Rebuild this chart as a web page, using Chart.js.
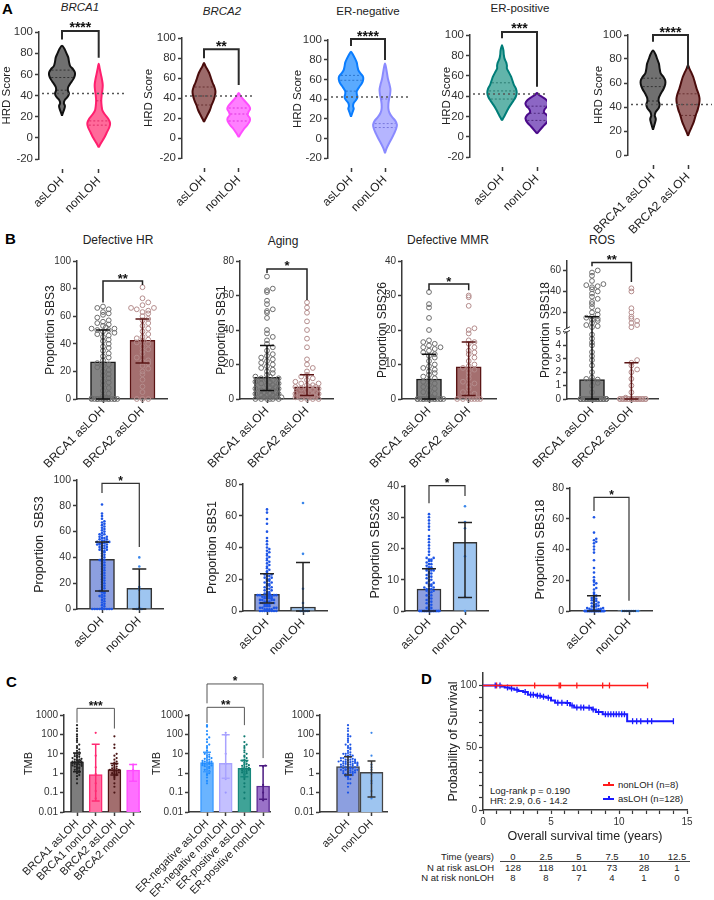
<!DOCTYPE html>
<html>
<head>
<meta charset="utf-8">
<script src="https://cdn.jsdelivr.net/npm/chart.js"></script>
<style>
html, body { margin:0; padding:0; overflow:hidden; }
body { width:714px; height:900px; position:relative; background:#fff; font-family:'Liberation Sans', Arial, sans-serif; color:#222; }
canvas { position:absolute; }
.t { position:absolute; white-space:nowrap; line-height:1; }
.c { transform:translateX(-50%); }
.r { transform:translateX(-100%); }
.L { font-weight:bold; color:#000; }
</style>
</head>
<body>
<div class="t L" style="left:2px;top:1px;font-size:15px">A</div>
<div class="t c" style="left:80px;top:2px;font-size:11.5px;font-style:italic">BRCA1</div>
<div class="t c" style="left:222px;top:6px;font-size:11.5px;font-style:italic">BRCA2</div>
<div class="t c" style="left:368px;top:6px;font-size:11.5px">ER-negative</div>
<div class="t c" style="left:520px;top:3px;font-size:11.5px">ER-positive</div>
<div class="t L" style="left:5px;top:231px;font-size:15px">B</div>
<div class="t c" style="left:118px;top:234px;font-size:12px">Defective HR</div>
<div class="t c" style="left:283px;top:235px;font-size:12px">Aging</div>
<div class="t c" style="left:448px;top:234px;font-size:12px">Defective MMR</div>
<div class="t c" style="left:602px;top:234px;font-size:12px">ROS</div>
<div class="t L" style="left:6px;top:674px;font-size:15px">C</div>
<div class="t L" style="left:421px;top:671px;font-size:15px">D</div>
<div class="t" style="left:490px;top:786px;font-size:9.5px">Log-rank p = 0.190</div>
<div class="t" style="left:490px;top:796px;font-size:9.5px">HR: 2.9, 0.6 - 14.2</div>
<div id="leg"></div>
<div id="risk"></div>

<script>
// ---------- data ----------

// violin outlines: [HRD score, half width in category units]
var vB1As = [[21,0],[24,0.03],[27,0.06],[30,0.08],[33,0.05],[36,0.08],[39,0.16],[42,0.19],[45,0.16],[48,0.17],[51,0.22],[55,0.3],[59,0.35],[62,0.35],[65,0.3],[68,0.22],[72,0.19],[76,0.17],[80,0.12],[84,0.07],[87,0]];
var vB1Non = [[-9,0],[-5,0.06],[0,0.15],[5,0.22],[10,0.29],[14,0.31],[18,0.26],[22,0.17],[26,0.1],[30,0.08],[35,0.07],[40,0.08],[45,0.1],[50,0.11],[55,0.09],[60,0.06],[65,0.03],[70,0]];
var vB2As = [[16,0],[19,0.04],[23,0.1],[28,0.17],[33,0.22],[38,0.28],[43,0.32],[47,0.33],[51,0.3],[55,0.25],[60,0.2],[65,0.15],[69,0.09],[72,0.04],[75,0]];
var vB2Non = [[1,0],[5,0.07],[9,0.15],[13,0.25],[17,0.32],[20,0.32],[23,0.26],[26,0.28],[29,0.33],[32,0.3],[36,0.2],[40,0.1],[43,0.04],[45,0]];
var vNegAs = [[22,0],[25,0.03],[28,0.06],[30,0.08],[33,0.06],[36,0.08],[39,0.15],[42,0.19],[45,0.17],[48,0.17],[52,0.24],[56,0.32],[60,0.36],[63,0.35],[66,0.28],[69,0.22],[73,0.19],[77,0.17],[81,0.12],[85,0.06],[88,0]];
var vNegNon = [[-15,0],[-10,0.05],[-5,0.12],[0,0.2],[5,0.27],[10,0.33],[14,0.35],[18,0.3],[22,0.2],[26,0.13],[30,0.1],[35,0.1],[40,0.12],[45,0.15],[50,0.16],[55,0.13],[60,0.09],[66,0.06],[72,0.03],[76,0]];
var vPosAs = [[16,0],[19,0.05],[23,0.11],[27,0.17],[31,0.24],[35,0.32],[39,0.39],[43,0.42],[47,0.4],[51,0.34],[55,0.3],[59,0.26],[63,0.2],[67,0.14],[70,0.14],[73,0.12],[77,0.07],[81,0.05],[85,0.04],[90,0]];
var vPosNon = [[3,0],[6,0.07],[10,0.17],[14,0.28],[18,0.33],[21,0.29],[24,0.2],[27,0.22],[30,0.3],[33,0.33],[36,0.27],[39,0.15],[41,0.06],[43,0]];
// quartiles drawn inside the violins
var qB1As = [45, 57, 64], qB1Non = [12, 16, 35], qB2As = [33, 42, 51], qB2Non = [17, 24, 30];
var qNegAs = [48, 59, 64], qNegNon = [11, 15, 40], qPosAs = [37, 45, 53], qPosNon = [16, 23, 30];

// B top: signatures, BRCA1 asLOH vs BRCA2 asLOH
var hrBrca1 = [0,0,0,0,0,0,0,0,0,0,0,0,0,0,0.5,1,2,4,6,8,10,12,13,15,17,18,20,21,23,24,25,26,28,30,31,33,35,37,38,40,42,43,45,46,47,48,49,50,50,51,51,52,53,54,55,56,57,59,61,62,63,65,66,67];
var hrBrca2 = [0,0,0,5,9,14,18,20,22,24,26,27,28,30,33,35,36,38,40,41,42,43,44,45,47,49,51,53,55,57,58,60,62,63,64,65,66,66,68,70,73,81];
var hrBar = [27, 42.5], hrLo = [0, 26], hrHi = [50, 58];
var agBrca1 = [0,0,0,0,0,0,1,1,1,2,2,2,3,3,3,4,4,5,5,5,6,6,7,7,8,8,9,9,10,10,11,11,12,12,13,13,14,15,16,17,18,19,20,21,22,23,24,25,26,28,30,32,34,36,38,40,47,50,51,52,55,57,62,63,64,71];
var agBrca2 = [0,0,0,0,1,1,1,2,2,2,3,3,4,4,5,5,6,6,7,7,7,8,8,9,9,10,11,12,13,14,16,18,20,23,30,35,40,45,50,53,56];
var agBar = [12.5, 7], agLo = [5, 2], agHi = [31, 14];
var mmrBrca1 = [0,0,0,0,0,0,0,0,0,0,0,0,0,0,0,0.5,1,1.5,2,2.5,3,3.5,4,4.5,5,5.5,6,6.5,7,7.5,8,8.5,9,9.5,10,11,12,12.5,13,13.5,14,14.5,15,15,15.5,16,16.5,17,20,23.5,26.5,27.5,31];
var mmrBrca2 = [0,0,0,0,0,0,0,1,1.5,2,3,4,4.5,5,6,7,8,8.5,9,9.5,10,11,12,13,13.5,14,15,16,16.5,17,19,20,20.5,27,29.5,30];
var mmrBar = [5.8, 9.3], mmrLo = [0, 1], mmrHi = [13, 16.5];
var rosBrca1 = [0,0,0,0,0,0,0,0,0,0,0,0,0,0,0,0,0,0,0,0,0,0,0,0,0,0,0,0,0,0,0,0,0,0,0,0.5,1,1.2,1.4,1.45,1.5,1.6,2,2.5,2.9,3.2,3.5,4,4.2,4.5,4.8,6,7,8,10,12,13,14,15,16,18,20,22,25,28,30,33,35,38,40,42,44,45,46,47,50,55,58,60];
var rosBrca2 = [0,0,0,0,0,0,0,0,0,0,0,0,0,0,0,0,0,0,0,0,0,0,0.1,0.5,1,1.5,2,2.2,2.5,2.7,2.9,6,8,10,12,14,16,20,24,40,43];
var rosBar = [1.45, 0.05], rosLo = [0, 0], rosHi = [16, 2.7];

// B bottom: asLOH vs nonLOH
var s3As = [0,0,0,0,0,0,0,0,0,1,2,3,4,5,6,7,8,9,10,10,11,12,13,13,14,15,16,17,18,19,20,21,22,23,24,25,26,27,28,29,30,31,32,33,34,35,36,37,38,38,39,40,41,42,43,44,45,45,46,46,47,47,48,48,49,49,50,50,50,51,51,51,52,52,52,53,53,54,54,55,55,56,56,57,58,58,59,60,61,62,63,64,65,66,67,68,70,72,74,81];
var s3Non = [0,0,0,1,15,17,33,40];
var s3Bar = [38.5, 16], s3Lo = [14, 0], s3Hi = [52, 31];
var s1As = [0,0,0,0,0,0,0,0,1,1,1,1,2,2,2,2,3,3,3,4,4,4,5,5,5,5,6,6,6,7,7,7,7,8,8,8,8,9,9,9,9,9,10,10,10,10,10,10,11,11,11,12,12,13,13,14,14,15,15,16,16,17,17,18,18,19,19,20,20,21,21,22,22,23,23,24,25,26,27,28,29,30,31,32,33,34,35,36,37,38,39,40,42,44,46,50,55,58,62,64];
var s1Non = [0,0,0,0,2,5,14,36,68];
var s1Bar = [10.5, 2.5], s1Lo = [5, 0], s1Hi = [23.5, 30.5];
var s26As = [0,0,0,0,0,0,0,0,0,0,0,0,0,0,0,0,0,0,0,0,0,0,0,0,0,0,0,0,0.5,1,1,1.5,2,2,2.5,3,3,3.5,4,4,4.5,5,5,5.5,6,6,6.5,6.5,7,7,7,7.5,7.5,8,8,8.5,8.5,9,9,9.5,10,10,10.5,11,11,11.5,12,12,12.5,13,13,13,13.5,13.5,13.5,14,14,14.5,15,15,15.5,16,16,16.5,16.5,17,17,18,19,20,21,22,23,24,26,27,28,29,30,31];
var s26Non = [0,4.5,17.5,26.5,28.5,33.5];
var s26Bar = [7, 22], s26Lo = [0, 4.3], s26Hi = [13.5, 28.3];
var s18As = [0,0,0,0,0,0,0,0,0,0,0,0,0,0,0,0,0,0,0,0,0,0,0,0,0,0,0,0,0,0,0,0,0,0,0,0,0,0,0,0,0,0,0,0,0,0.5,0.5,0.5,0.5,0.5,0.8,1,1,1.2,1.5,1.5,2,2,2.5,3,3,3.5,4,4.5,5,5.5,6,6.5,7,7.5,8,8.5,9,10,11,12,14,15,17,18,19,20,22,25,28,33,38,40,42,44,45,46,47,51,61];
var s18Non = [0,0,0,0,0,0,0,0];
var s18Bar = [0.5, 0.05], s18Lo = [0, 0], s18Hi = [10, 0];

// C: tumour mutational burden
var tmbB1As = [0.3,0.5,0.7,0.8,1,1.1,1.2,1.4,1.5,1.7,1.8,2,2,2.2,2.4,2.5,2.7,2.8,3,3,3.2,3.4,3.5,3.7,3.8,4,4,4.2,4.5,4.7,5,5,5.5,6,6.5,7,7.5,8,9,10,11,12,14,17,20,25,30,40,50,60,80,100,150,200,300];
var tmbB1Non = [0.05,0.12,0.3,0.9,2,8,120];
var tmbB2As = [0.1,0.2,0.3,0.5,0.6,0.7,0.8,0.9,1,1,1.1,1.2,1.3,1.4,1.5,1.5,1.6,1.7,1.8,2,2.2,2.5,2.8,3,3.5,4,5,6,8,10,20,30,80];
var tmbB2Non = [0.4,1.5,2.8];
var tmbGeneBar = [3.9, 0.85, 1.55, 1.43], tmbGeneLo = [1.2, 0.037, 0.8, 0.39], tmbGeneHi = [11, 31.5, 3.2, 2.8];
var tmbNegAs = [0.3,0.4,0.6,0.8,0.9,1,1.2,1.3,1.5,1.6,1.8,2,2.1,2.3,2.5,2.6,2.8,3,3,3.2,3.3,3.5,3.7,4,4,4.3,4.6,5,5.5,6,6.5,7,8,9,10,12,15,20,25,30,40,55,70,100,150,250,300];
var tmbNegNon = [0.1,0.5,3,10,90,120];
var tmbPosAs = [0.05,0.1,0.2,0.3,0.5,0.6,0.8,0.9,1,1.1,1.2,1.3,1.4,1.5,1.6,1.7,1.8,1.9,2,2.2,2.4,2.6,2.8,3,3.5,4,4.5,5,6,7,8,10,12,15,20,25,30,40,80];
var tmbPosNon = [0.04,0.1,0.25,2.2,2.5];
var tmbErBar = [3.5, 3.2, 1.8, 0.22], tmbErLo = [1.2, 0.55, 0.65, 0.045], tmbErHi = [12, 95, 4.5, 2.4];
var tmbAllAs = tmbB1As.concat(tmbB2As);
var tmbAllNon = tmbB1Non.concat(tmbB2Non);
var tmbBar = [2.2, 1.1], tmbLo = [0.8, 0.06], tmbHi = [7, 4.2];

// D: Kaplan-Meier
var kmAsT = [0,1.35,1.6,1.95,2.3,2.6,2.95,3.3,3.9,4.3,4.65,5.0,5.3,6.1,6.4,6.7,7.6,8.0,8.3,8.8,10.6,14.0];
var kmAsS = [100,99.2,98.4,97.6,96.5,95.6,94.7,92.6,91.8,91,90.2,88,86.2,86,84,82.2,82,80.6,78.7,76.9,71.3,71.3];
var kmAsCens = [0.9,1.25,1.8,2.1,2.5,3.1,3.5,3.7,4.0,4.2,4.45,4.8,5.5,5.8,6.2,6.55,6.9,7.2,7.4,7.8,8.1,8.5,9.0,9.2,9.4,9.6,9.8,10.0,10.2,10.4,11.0,11.3,11.6,12.1,12.4,14.0];
var kmNonT = [0, 12.1];
var kmNonS = [100, 100];
var kmNonCens = [1.0,3.8,5.6,5.7,6.9,8.8,9.3,12.1];
var riskTime = ['0','2.5','5','7.5','10','12.5'];
var riskAs = [128,118,101,73,28,1];
var riskNon = [8,8,7,4,1,0];

var LBL_AS = ['asLOH', 'nonLOH'];
var LBL_BR = ['BRCA1 asLOH', 'BRCA2 asLOH'];
var LBL_GENE = ['BRCA1 asLOH', 'BRCA1 nonLOH', 'BRCA2 asLOH', 'BRCA2 nonLOH'];
var LBL_ER = ['ER-negative asLOH', 'ER-negative nonLOH', 'ER-positive asLOH', 'ER-positive nonLOH'];

// ---------- helpers ----------
var FONT = "'Liberation Sans', Arial, sans-serif";
var AXIS = '#3a3a3a';
Chart.defaults.font.family = FONT;
Chart.defaults.color = '#333';

// y axis with a gap (0-5 below, 5-max above)
class BrokenScale extends Chart.LinearScale {
	getPixelForValue(v) {
		if (v === null || v === undefined) return NaN;
		var b = this.options.breakAt, lf = this.options.lowFrac, gp = this.options.gapFrac;
		var d = v <= b ? v / b * lf : lf + gp + (v - b) / (this.max - b) * (1 - lf - gp);
		return this.getPixelForDecimal(d);
	}
	getValueForPixel(p) {
		var b = this.options.breakAt, lf = this.options.lowFrac, gp = this.options.gapFrac;
		var d = this.getDecimalForPixel(p);
		return d <= lf ? d / lf * b : b + (d - lf - gp) / (1 - lf - gp) * (this.max - b);
	}
}
BrokenScale.id = 'broken';
BrokenScale.defaults = Chart.LinearScale.defaults;
Chart.register(BrokenScale);

function geo(g) {
	var o = Object.assign({pt: 40, pr: 6, padL: 50, tsize: 12, tick: 11, xfont: 12, xh: 90, c0: 0, sp: 1}, g);
	var inner = Math.round(o.ax - o.toff - o.tsize * 0.6);
	o.yw = o.ax - inner;
	o.left = inner - o.padL;
	o.xmin = -(o.c0 - o.ax) / o.sp;
	o.xmax = (o.right - o.c0) / o.sp;
	return o;
}

function mount(g) {
	var c = document.createElement('canvas');
	c.width = Math.round(g.right - g.left + g.pr);
	c.height = Math.round(g.bot - g.top + g.pt + g.xh);
	c.style.left = g.left + 'px';
	c.style.top = Math.round(g.top - g.pt) + 'px';
	document.body.appendChild(c);
	return c;
}

function baseOptions(g, scales) {
	return {
		responsive: false,
		animation: false,
		layout: {padding: {top: g.pt, right: g.pr, left: g.padL, bottom: 0}},
		plugins: {legend: {display: false}, tooltip: {enabled: false}},
		scales: scales
	};
}

function yScale(g, y) {
	return {
		type: y.type || 'linear',
		position: 'left',
		bounds: 'data',
		min: y.min, max: y.max,
		breakAt: y.breakAt, lowFrac: y.lowFrac, gapFrac: y.gapFrac,
		grid: {drawOnChartArea: false, tickLength: 4, tickColor: AXIS, tickWidth: 1.5},
		border: {display: true, color: AXIS, width: 1.5},
		ticks: {autoSkip: false, padding: 2, color: '#333', font: {size: g.tick},
			callback: function (v) {
				if (y.show) return y.show.indexOf(v) >= 0 ? String(v) : '';
				return String(v);
			}},
		title: {display: true, text: y.title, color: '#222', padding: 0, font: {size: g.tsize}},
		afterBuildTicks: function (s) { s.ticks = y.ticks.map(function (v) { return {value: v}; }); },
		afterFit: function (s) { s.width = g.yw; s.paddingTop = 0; s.paddingBottom = 0; }
	};
}

function xScale(g, labels, axisLine) {
	return {
		type: 'linear',
		position: 'bottom',
		bounds: 'data',
		offset: false,
		min: g.xmin, max: g.xmax,
		grid: {drawOnChartArea: false, offset: false, tickLength: axisLine ? 4 : 14, tickColor: AXIS, tickWidth: 1.5,
			tickBorderDash: axisLine ? [] : [0, 10, 4, 100]},
		border: {display: axisLine, color: AXIS, width: 1.5},
		ticks: {autoSkip: false, minRotation: 45, maxRotation: 45, padding: 1, color: '#222', font: {size: g.xfont},
			callback: function (v) { return labels[v]; }},
		afterBuildTicks: function (s) { s.ticks = labels.map(function (l, i) { return {value: i}; }); },
		afterFit: function (s) { s.height = g.xh; s.paddingLeft = 0; s.paddingRight = 0; }
	};
}

// dots spread sideways inside their bin so they do not sit on top of each other
function swarm(vals, cat, step, half, keyOf) {
	var used = {};
	var lim = Math.max(1, Math.floor(half / step)), per = 2 * lim + 1;
	return vals.map(function (v) {
		var k = keyOf(v);
		var n = used[k] || 0;
		used[k] = n + 1;
		var i = n % per, ring = Math.floor(n / per);
		var off = (i % 2 ? 1 : -1) * Math.ceil(i / 2) * step;
		if (ring % 2) off += step / 2;
		return {x: cat + off, y: v};
	});
}
function linKey(bin) { return function (v) { return Math.round(v / bin); }; }
function logKey(bin) { return function (v) { return Math.round(Math.log10(v) / bin); }; }
function brokenKey(v) { return v <= 5 ? Math.round(v / 0.35) : 1000 + Math.round(v / 3.5); }

function violinPts(shape, cat) {
	var pts = shape.map(function (p) { return {x: cat + p[1], y: p[0]}; });
	for (var i = shape.length - 2; i >= 0; i--) pts.push({x: cat - shape[i][1], y: shape[i][0]});
	return pts;
}
function halfAt(shape, y) {
	for (var i = 0; i < shape.length - 1; i++) {
		var a = shape[i], b = shape[i + 1];
		if (y >= a[0] && y <= b[0]) return a[1] + (b[1] - a[1]) * (y - a[0]) / (b[0] - a[0]);
	}
	return 0;
}

// threshold line, quartiles, error bars, significance brackets, axis break
function extras(ex) {
	return {
		id: 'extras',
		afterDatasetsDraw: function (chart) {
			var ctx = chart.ctx, xs = chart.scales.x, ys = chart.scales.y, a = chart.chartArea;
			ctx.save();
			(ex.quart || []).forEach(function (v) {
				ctx.strokeStyle = v.color; ctx.lineWidth = 1; ctx.setLineDash([2, 2]);
				v.q.forEach(function (q) {
					var w = halfAt(v.shape, q) * 0.9, py = ys.getPixelForValue(q);
					ctx.beginPath();
					ctx.moveTo(xs.getPixelForValue(v.cat - w), py);
					ctx.lineTo(xs.getPixelForValue(v.cat + w), py);
					ctx.stroke();
				});
				ctx.setLineDash([]);
			});
			if (ex.hline !== undefined) {
				var hy = ys.getPixelForValue(ex.hline);
				ctx.setLineDash([2, 3]); ctx.strokeStyle = '#555'; ctx.lineWidth = 1.5;
				ctx.beginPath(); ctx.moveTo(a.left + 3, hy); ctx.lineTo(a.right, hy); ctx.stroke();
				ctx.setLineDash([]);
			}
			(ex.err || []).forEach(function (e) {
				var x = xs.getPixelForValue(e.x), y1 = ys.getPixelForValue(e.lo), y2 = ys.getPixelForValue(e.hi);
				ctx.strokeStyle = e.color; ctx.lineWidth = 1.5;
				ctx.beginPath();
				ctx.moveTo(x, y1); ctx.lineTo(x, y2);
				ctx.moveTo(x - ex.cap, y2); ctx.lineTo(x + ex.cap, y2);
				ctx.moveTo(x - ex.cap, y1); ctx.lineTo(x + ex.cap, y1);
				ctx.stroke();
			});
			(ex.brackets || []).forEach(function (b) {
				var xa = xs.getPixelForValue(b[0]), xb = xs.getPixelForValue(b[1]);
				var yt = ys.getPixelForValue(b[2]), ya = ys.getPixelForValue(b[3]), yb = ys.getPixelForValue(b[4]);
				ctx.strokeStyle = ex.bcolor || '#222'; ctx.lineWidth = ex.bw || 1.5;
				ctx.beginPath(); ctx.moveTo(xa, ya); ctx.lineTo(xa, yt); ctx.lineTo(xb, yt); ctx.lineTo(xb, yb); ctx.stroke();
				ctx.fillStyle = '#111'; ctx.font = 'bold ' + (ex.bsize || 13) + 'px ' + FONT;
				ctx.textAlign = 'center'; ctx.textBaseline = 'alphabetic';
				ctx.fillText(b[5], (xa + xb) / 2, yt + 1.5);
			});
			if (ex.breakAt) {
				var p1 = ys.getPixelForValue(ex.breakAt), p2 = ys.getPixelForValue(ex.breakAt + 0.001);
				ctx.fillStyle = '#fff';
				ctx.fillRect(a.left - 3, p2 + 0.5, 6, p1 - p2 - 1);
				ctx.strokeStyle = AXIS; ctx.lineWidth = 1;
				ctx.beginPath();
				ctx.moveTo(a.left - 3, p1 + 1.5); ctx.lineTo(a.left + 3, p1 - 1.5);
				ctx.moveTo(a.left - 3, p2 + 1.5); ctx.lineTo(a.left + 3, p2 - 1.5);
				ctx.stroke();
			}
			ctx.restore();
		}
	};
}

function violinPanel(g, labels, vs, y, brackets) {
	g = geo(g);
	var ds = vs.map(function (v, i) {
		return {data: violinPts(v.shape, i), showLine: true, fill: 'shape', tension: 0.3,
			borderColor: v.line, backgroundColor: v.fill, borderWidth: 2, pointRadius: 0};
	});
	var quart = vs.map(function (v, i) { return {cat: i, shape: v.shape, q: v.q, color: v.qc}; });
	new Chart(mount(g), {
		type: 'scatter',
		data: {datasets: ds},
		options: baseOptions(g, {x: xScale(g, labels, false), y: yScale(g, y)}),
		plugins: [extras({hline: 42, quart: quart, brackets: brackets, bsize: 14, bw: 2, bcolor: '#2a2a2a'})]
	});
}

function barPanel(g, s) {
	g = geo(g);
	var ds = [];
	s.dots.forEach(function (vals, i) {
		ds.push({type: 'scatter', order: 1, clip: false, data: swarm(vals, i, s.step, s.half, s.key),
			pointRadius: s.r, pointBorderWidth: s.open ? 1 : 0, pointBorderColor: s.dotColor[i],
			pointBackgroundColor: s.open ? 'rgba(0,0,0,0)' : s.dotColor[i]});
	});
	ds.push({type: 'bar', order: 3, data: s.bars.map(function (v, i) { return {x: i, y: v}; }),
		backgroundColor: s.fill, borderColor: s.line, borderWidth: 1.5, barThickness: s.thick});
	var err = s.bars.map(function (v, i) { return {x: i, lo: s.lo[i], hi: s.hi[i], color: s.errColor[i]}; });
	new Chart(mount(g), {
		type: 'bar',
		data: {datasets: ds},
		options: baseOptions(g, {x: xScale(g, s.labels, true), y: yScale(g, s.y)}),
		plugins: [extras({err: err, cap: s.cap, brackets: s.brackets, bsize: s.bsize, bw: s.bw, bcolor: s.bcolor, breakAt: s.y.breakAt})]
	});
}

// ---------- A: violins ----------
var GRAY = {fill: '#707070', line: '#111', qc: 'rgba(0,0,0,0.55)'};
var BROWN = {fill: '#9c6a6a', line: '#4a0c0c', qc: 'rgba(60,0,0,0.55)'};
var yHrd = {min: -20, max: 100, ticks: [-20, 0, 20, 40, 60, 80, 100], title: 'HRD Score'};
var aFont = {tsize: 11.5, tick: 11.5, xfont: 12};

violinPanel(Object.assign({ax: 39, top: 32, bot: 159, c0: 62, sp: 36.7, right: 125, toff: 31.7}, aFont), LBL_AS,
	[Object.assign({shape: vB1As, q: qB1As}, GRAY),
	 {shape: vB1Non, q: qB1Non, fill: '#ff6a9a', line: '#ff1f6e', qc: 'rgba(200,0,70,0.6)'}],
	yHrd, [[0, 1, 101, 93, 75.7, '****']]);
violinPanel(Object.assign({ax: 182, top: 38, bot: 158, c0: 204, sp: 34.7, right: 253, toff: 33.4}, aFont), LBL_AS,
	[Object.assign({shape: vB2As, q: qB2As}, BROWN),
	 {shape: vB2Non, q: qB2Non, fill: '#ff80ff', line: '#ff4dff', qc: 'rgba(200,0,200,0.6)'}],
	yHrd, [[0, 1, 88.7, 79.7, 53, '**']]);
violinPanel(Object.assign({ax: 328, top: 40, bot: 158, c0: 351, sp: 34, right: 408, toff: 30}, aFont), LBL_AS,
	[{shape: vNegAs, q: qNegAs, fill: '#5aaaff', line: '#0a7dff', qc: 'rgba(0,70,160,0.5)'},
	 {shape: vNegNon, q: qNegNon, fill: '#b5b5ff', line: '#8a8aff', qc: 'rgba(80,80,200,0.6)'}],
	yHrd, [[0, 1, 101, 94, 79.7, '****']]);
violinPanel(Object.assign({ax: 470, top: 35, bot: 157, c0: 502, sp: 35, right: 547, toff: 23.3}, aFont), LBL_AS,
	[{shape: vPosAs, q: qPosAs, fill: '#62b4aa', line: '#007d78', qc: 'rgba(0,80,70,0.55)'},
	 {shape: vPosNon, q: qPosNon, fill: '#8c66c4', line: '#4b0a8a', qc: 'rgba(40,0,80,0.6)'}],
	yHrd, [[0, 1, 103, 96.7, 49, '***']]);
violinPanel(Object.assign({ax: 628, top: 35, bot: 155, c0: 653, sp: 35, right: 712, toff: 29.4}, aFont), LBL_BR,
	[Object.assign({shape: vB1As, q: qB1As}, GRAY), Object.assign({shape: vB2As, q: qB2As}, BROWN)],
	{min: 0, max: 100, ticks: [0, 20, 40, 60, 80, 100], title: 'HRD Score'}, [[0, 1, 100, 94.4, 72, '****']]);

// ---------- B top: BRCA1 vs BRCA2 ----------
var bTop = {tsize: 12, tick: 10, xfont: 12};
var brStyle = {labels: LBL_BR, fill: ['#838383', '#a46f6f'], line: ['#1a1a1a', '#5a1414'],
	errColor: ['#111', '#5a1414'], dotColor: ['#6d6d6d', '#b48c8c'], open: true, r: 2.4,
	step: 0.145, half: 0.36, thick: 25, cap: 7, bsize: 13, bw: 1.5};

barPanel(Object.assign({ax: 77, top: 261, bot: 399, c0: 103, sp: 39.5, right: 167, toff: 27}, bTop),
	Object.assign({}, brStyle, {bars: hrBar, lo: hrLo, hi: hrHi, dots: [hrBrca1, hrBrca2], key: linKey(3.6),
		y: {min: 0, max: 100, ticks: [0, 20, 40, 60, 80, 100], title: 'Proportion SBS3'},
		brackets: [[0, 1, 85.5, 70, 82.6, '**']]}));
barPanel(Object.assign({ax: 240, top: 261, bot: 399, c0: 267, sp: 40, right: 333, toff: 19.3}, bTop),
	Object.assign({}, brStyle, {bars: agBar, lo: agLo, hi: agHi, dots: [agBrca1, agBrca2], key: linKey(2.9),
		y: {min: 0, max: 80, ticks: [0, 20, 40, 60, 80], title: 'Proportion SBS1'},
		brackets: [[0, 1, 75.4, 73, 57.4, '*']]}));
barPanel(Object.assign({ax: 402, top: 261, bot: 399, c0: 429, sp: 39.7, right: 496, toff: 20}, bTop),
	Object.assign({}, brStyle, {bars: mmrBar, lo: mmrLo, hi: mmrHi, dots: [mmrBrca1, mmrBrca2], key: linKey(1.45),
		y: {min: 0, max: 40, ticks: [0, 10, 20, 30, 40], title: 'Proportion SBS26'},
		brackets: [[0, 1, 33.3, 31.5, 31.5, '*']]}));
barPanel(Object.assign({ax: 567, top: 261, bot: 399, c0: 592, sp: 39.4, right: 658, toff: 21.7}, bTop),
	Object.assign({}, brStyle, {bars: rosBar, lo: rosLo, hi: rosHi, dots: [rosBrca1, rosBrca2], key: brokenKey,
		y: {type: 'broken', min: 0, max: 69, breakAt: 5, lowFrac: 0.486, gapFrac: 0.027,
			ticks: [0, 1, 2, 3, 4, 5, 20, 40, 60], title: 'Proportion SBS18'},
		brackets: [[0, 1, 67.6, 64, 49, '**']]}));

// ---------- B bottom: asLOH vs nonLOH ----------
var bBot = {tsize: 12.5, tick: 10.5, xfont: 12};
var lohStyle = {labels: LBL_AS, fill: ['#8c9fe0', '#9ec5f0'], line: ['#333', '#333'],
	errColor: ['#222', '#222'], dotColor: ['#1d55e6', '#3a86ea'], open: false, r: 1.3,
	step: 0.065, half: 0.3, thick: 25, cap: 7, bsize: 12, bw: 1.2, bcolor: '#333'};

barPanel(Object.assign({ax: 77, top: 480, bot: 609, c0: 102, sp: 37.3, right: 163, toff: 37.3}, bBot),
	Object.assign({}, lohStyle, {bars: s3Bar, lo: s3Lo, hi: s3Hi, dots: [s3As, s3Non], key: linKey(2),
		y: {min: 0, max: 100, ticks: [0, 20, 40, 60, 80, 100], title: 'Proportion  SBS3'},
		brackets: [[0, 1, 97.4, 90, 48, '*']]}));
barPanel(Object.assign({ax: 243, top: 484, bot: 611, c0: 267, sp: 36, right: 327, toff: 30.4}, bBot),
	Object.assign({}, lohStyle, {bars: s1Bar, lo: s1Lo, hi: s1Hi, dots: [s1As, s1Non], key: linKey(1.6),
		y: {min: 0, max: 80, ticks: [0, 20, 40, 60, 80], title: 'Proportion SBS1'}, brackets: []}));
barPanel(Object.assign({ax: 405, top: 486, bot: 611, c0: 429, sp: 36, right: 488, toff: 30}, bBot),
	Object.assign({}, lohStyle, {bars: s26Bar, lo: s26Lo, hi: s26Hi, dots: [s26As, s26Non], key: linKey(0.8), thick: 24,
		y: {min: 0, max: 40, ticks: [0, 10, 20, 30, 40], title: 'Proportion SBS26'},
		brackets: [[0, 1, 40.1, 34.5, 36.8, '*']]}));
barPanel(Object.assign({ax: 570, top: 488, bot: 611, c0: 594, sp: 35, right: 652, toff: 29.3}, bBot),
	Object.assign({}, lohStyle, {bars: s18Bar, lo: s18Lo, hi: s18Hi, dots: [s18As, s18Non], key: linKey(1.6),
		y: {min: 0, max: 80, ticks: [0, 20, 40, 60, 80], title: 'Proportion SBS18'},
		brackets: [[0, 1, 73.9, 65, 6.6, '*']]}));

// ---------- C: TMB ----------
var cFont = {tsize: 11, tick: 10, xfont: 11, xh: 100};
var yTmb = {type: 'logarithmic', min: 0.01, max: 1000, ticks: [0.01, 0.1, 1, 10, 100, 1000], title: 'TMB'};
var cStyle = {open: false, r: 1.1, step: 0.12, half: 0.3, thick: 13, cap: 4, bsize: 12, bw: 1, bcolor: '#555', key: logKey(0.12), y: yTmb};

barPanel(Object.assign({ax: 64, top: 715, bot: 812, c0: 77, sp: 18.7, right: 140, toff: 35.7}, cFont),
	Object.assign({}, cStyle, {labels: LBL_GENE, bars: tmbGeneBar, lo: tmbGeneLo, hi: tmbGeneHi,
		dots: [tmbB1As, tmbB1Non, tmbB2As, tmbB2Non],
		fill: ['#7d7d7d', '#ff6fa3', '#a26e6e', '#ff70ff'], line: ['#222', '#ff2a72', '#4a1515', '#ff4dff'],
		errColor: ['#222', '#ff2a72', '#4a1515', '#ff4dff'], dotColor: ['#222', '#ff2a72', '#4a1515', '#ff4dff'],
		brackets: [[0, 2, 2200, 400, 200, '***']]}));
barPanel(Object.assign({ax: 189, top: 715, bot: 812, c0: 207, sp: 18.7, right: 270, toff: 32}, cFont),
	Object.assign({}, cStyle, {labels: LBL_ER, bars: tmbErBar, lo: tmbErLo, hi: tmbErHi,
		dots: [tmbNegAs, tmbNegNon, tmbPosAs, tmbPosNon],
		fill: ['#6ab4ff', '#c4c0ff', '#3fa397', '#9a72c8'], line: ['#3d9bff', '#a9a3ff', '#16877c', '#5e2d96'],
		errColor: ['#3d9bff', '#a9a3ff', '#16877c', '#4b1a80'], dotColor: ['#1f8bff', '#9d97ff', '#0e7a70', '#4b1a80'],
		brackets: [[0, 2, 2490, 390, 300, '**'], [0, 3, 39800, 4000, 6, '*']]}));
barPanel(Object.assign({ax: 320, top: 715, bot: 812, c0: 348, sp: 23.5, right: 387, toff: 30}, cFont),
	Object.assign({}, cStyle, {labels: LBL_AS, bars: tmbBar, lo: tmbLo, hi: tmbHi,
		dots: [tmbAllAs, tmbAllNon], thick: 23, step: 0.1, half: 0.4,
		fill: ['#8c9fe0', '#9ec5f0'], line: ['#444', '#444'], errColor: ['#333', '#333'],
		dotColor: ['#1d55e6', '#3a86ea'], brackets: []}));

// ---------- D: survival ----------
function survAt(ts, ss, t) {
	var s = ss[0];
	for (var i = 0; i < ts.length; i++) if (ts[i] <= t) s = ss[i];
	return s;
}
(function () {
	var g = geo({ax: 483, top: 673, bot: 810, right: 687, toff: 29.7, tsize: 12.5, tick: 10, xh: 34, padL: 0});
	var xAx = {
		type: 'linear', position: 'bottom', bounds: 'data', min: 0, max: 15,
		grid: {drawOnChartArea: false, tickLength: 4, tickColor: AXIS, tickWidth: 1.2},
		border: {display: true, color: AXIS, width: 1.5},
		ticks: {autoSkip: false, maxRotation: 0, padding: 2, color: '#333', font: {size: 10},
			callback: function (v) { return v % 5 === 0 ? String(v) : ''; }},
		title: {display: true, text: 'Overall survival time (years)', color: '#222', padding: 0, font: {size: 12.5}},
		afterBuildTicks: function (s) { var t = []; for (var i = 0; i <= 15; i++) t.push({value: i}); s.ticks = t; },
		afterFit: function (s) { s.height = g.xh; s.paddingLeft = 0; s.paddingRight = 0; }
	};
	var yAx = yScale(g, {min: 0, max: 110, ticks: [0, 10, 20, 30, 40, 50, 60, 70, 80, 90, 100], show: [0, 50, 100], title: 'Probability of Survival'});
	yAx.grid.tickWidth = 1.2;
	new Chart(mount(g), {
		type: 'scatter',
		data: {datasets: [
			{data: kmNonT.map(function (t, i) { return {x: t, y: kmNonS[i]}; }), showLine: true, stepped: true,
				borderColor: '#ff1a1a', borderWidth: 1.5, pointRadius: 0},
			{data: kmAsT.map(function (t, i) { return {x: t, y: kmAsS[i]}; }), showLine: true, stepped: true,
				borderColor: '#1a1aff', borderWidth: 2, pointRadius: 0},
			{data: kmNonCens.map(function (t) { return {x: t, y: survAt(kmNonT, kmNonS, t)}; }), clip: false,
				pointStyle: 'line', pointRotation: 90, pointRadius: 3, pointBorderColor: '#ff1a1a', pointBorderWidth: 1.3},
			{data: kmAsCens.map(function (t) { return {x: t, y: survAt(kmAsT, kmAsS, t)}; }), clip: false,
				pointStyle: 'line', pointRotation: 90, pointRadius: 3, pointBorderColor: '#1a1aff', pointBorderWidth: 1.3}
		]},
		options: baseOptions(g, {x: xAx, y: yAx})
	});

	// legend
	var leg = document.getElementById('leg');
	[['nonLOH (n=8)', '#ff1a1a', 780], ['asLOH (n=128)', '#1a1aff', 794]].forEach(function (it) {
		leg.innerHTML += '<div style="position:absolute;left:603px;top:' + (it[2] + 4) + 'px;width:11px;height:1.5px;background:' + it[1] + '"></div>' +
			'<div style="position:absolute;left:608px;top:' + (it[2] + 2) + 'px;width:1.5px;height:4px;background:' + it[1] + '"></div>' +
			'<div class="t" style="left:618px;top:' + it[2] + 'px;font-size:9.5px">' + it[0] + '</div>';
	});

	// numbers at risk
	var riskX = [513, 546, 579, 612, 644, 677];
	var rows = [['Time (years)', riskTime, 852], ['N at risk asLOH', riskAs, 863], ['N at risk nonLOH', riskNon, 873]];
	var html = '';
	rows.forEach(function (r) {
		html += '<div class="t r" style="left:494px;top:' + r[2] + 'px;font-size:9.5px">' + r[0] + '</div>';
		r[1].forEach(function (v, i) {
			html += '<div class="t c" style="left:' + riskX[i] + 'px;top:' + r[2] + 'px;font-size:9.5px">' + v + '</div>';
		});
	});
	html += '<div style="position:absolute;left:500px;top:861px;width:190px;height:1px;background:#444"></div>';
	document.getElementById('risk').innerHTML = html;
})();
</script>
</body>
</html>
